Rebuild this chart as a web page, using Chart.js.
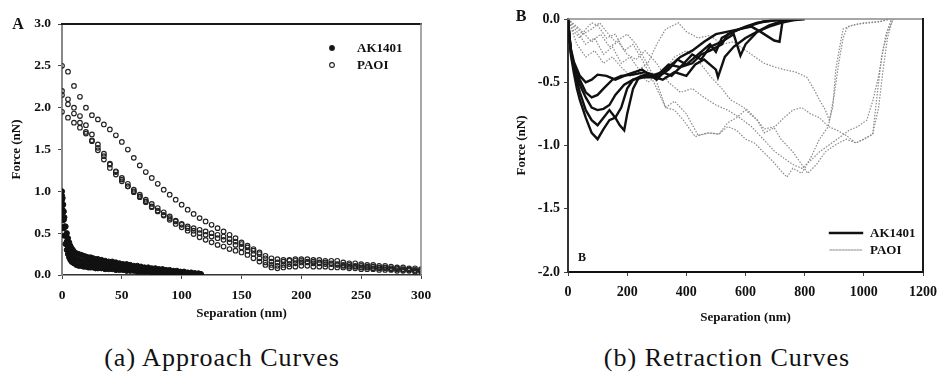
<!DOCTYPE html>
<html lang="en">
<head>
<meta charset="UTF-8">
<title>AFM Approach and Retraction Curves</title>
<script src="https://cdn.jsdelivr.net/npm/chart.js"></script>
<style>
    body {
        margin: 0;
        background: #fff;
        width: 945px;
        height: 383px;
        position: relative;
        overflow: hidden;
    }
    .panel { position: absolute; top: 0; }
    .caption {
        position: absolute;
        top: 343px;
        font-family: 'Liberation Serif', 'Times New Roman', serif;
        font-size: 26px;
        letter-spacing: 1px;
        line-height: 30px;
        color: #111;
        white-space: nowrap;
        transform: translateX(-50%);
    }
</style>
</head>
<body>

<canvas id="approachChart" class="panel" style="left:0" width="440" height="330"></canvas>
<canvas id="retractChart" class="panel" style="left:470px" width="475" height="330"></canvas>
<div class="caption" style="left:222px">(a) Approach Curves</div>
<div class="caption" style="left:727px">(b) Retraction Curves</div>

<script>
// ---- approach curves (panel A) ----
const approachTicksX = [0, 50, 100, 150, 200, 250, 300];
const approachTicksY = [0, 0.5, 1.0, 1.5, 2.0, 2.5, 3.0];

// AK1401 approach, separation in nm
const akSep = [0, 0.5, 1, 1.5, 2, 3, 4, 5, 6, 7, 8, 9, 10, 12, 14, 16, 18, 20, 22, 24, 26, 28, 30, 33, 36, 39, 42, 45, 48, 51, 54, 57, 60, 63, 66, 69, 72, 75, 78, 81, 84, 87, 90, 93, 96, 99, 102, 105, 108, 111, 114, 116];
const akApproach1 = [1.00, 0.92, 0.84, 0.76, 0.69, 0.58, 0.50, 0.44, 0.39, 0.35, 0.32, 0.30, 0.28, 0.26, 0.25, 0.24, 0.23, 0.22, 0.21, 0.21, 0.20, 0.19, 0.19, 0.18, 0.17, 0.16, 0.16, 0.15, 0.14, 0.13, 0.13, 0.12, 0.11, 0.11, 0.10, 0.09, 0.09, 0.08, 0.08, 0.07, 0.07, 0.06, 0.06, 0.05, 0.05, 0.04, 0.04, 0.03, 0.03, 0.02, 0.02, 0.01];
const akApproach2 = [0.95, 0.85, 0.75, 0.66, 0.58, 0.47, 0.40, 0.34, 0.30, 0.27, 0.24, 0.22, 0.21, 0.19, 0.18, 0.17, 0.16, 0.16, 0.15, 0.15, 0.14, 0.14, 0.13, 0.13, 0.12, 0.12, 0.11, 0.11, 0.10, 0.10, 0.09, 0.09, 0.08, 0.08, 0.07, 0.07, 0.06, 0.06, 0.05, 0.05, 0.05, 0.04, 0.04, 0.04, 0.03, 0.03, 0.03, 0.02, 0.02, 0.02, 0.01, 0.01];
const akApproach3 = [0.90, 0.78, 0.66, 0.56, 0.47, 0.37, 0.30, 0.25, 0.21, 0.18, 0.16, 0.15, 0.14, 0.12, 0.11, 0.11, 0.10, 0.10, 0.09, 0.09, 0.09, 0.08, 0.08, 0.08, 0.07, 0.07, 0.07, 0.06, 0.06, 0.06, 0.05, 0.05, 0.05, 0.04, 0.04, 0.04, 0.04, 0.03, 0.03, 0.03, 0.03, 0.02, 0.02, 0.02, 0.02, 0.02, 0.01, 0.01, 0.01, 0.01, 0.01, 0.00];

// PAOI approach, sampled every 5 nm from 0 to 300
const paoSep = [0, 5, 10, 15, 20, 25, 30, 35, 40, 45, 50, 55, 60, 65, 70, 75, 80, 85, 90, 95, 100, 105, 110, 115, 120, 125, 130, 135, 140, 145, 150, 155, 160, 165, 170, 175, 180, 185, 190, 195, 200, 205, 210, 215, 220, 225, 230, 235, 240, 245, 250, 255, 260, 265, 270, 275, 280, 285, 290, 295, 300];
const paoApproach1 = [2.50, 2.43, 2.26, 2.13, 2.00, 1.91, 1.86, 1.80, 1.74, 1.67, 1.59, 1.50, 1.40, 1.31, 1.23, 1.16, 1.09, 1.02, 0.96, 0.90, 0.84, 0.78, 0.73, 0.68, 0.64, 0.60, 0.56, 0.52, 0.48, 0.44, 0.39, 0.35, 0.31, 0.27, 0.23, 0.20, 0.19, 0.18, 0.18, 0.19, 0.19, 0.19, 0.18, 0.18, 0.17, 0.17, 0.17, 0.15, 0.14, 0.14, 0.13, 0.12, 0.12, 0.11, 0.11, 0.10, 0.09, 0.09, 0.08, 0.08, 0.07];
const paoApproach2 = [2.20, 2.10, 2.00, 1.90, 1.79, 1.68, 1.56, 1.45, 1.33, 1.24, 1.16, 1.09, 1.02, 0.96, 0.90, 0.85, 0.80, 0.75, 0.70, 0.65, 0.60, 0.56, 0.53, 0.50, 0.48, 0.46, 0.44, 0.42, 0.39, 0.36, 0.33, 0.29, 0.25, 0.20, 0.15, 0.12, 0.11, 0.12, 0.13, 0.14, 0.15, 0.15, 0.14, 0.14, 0.13, 0.13, 0.12, 0.11, 0.10, 0.10, 0.09, 0.09, 0.08, 0.08, 0.08, 0.07, 0.07, 0.06, 0.06, 0.05, 0.05];
const paoApproach3 = [2.15, 2.04, 1.93, 1.82, 1.71, 1.60, 1.49, 1.38, 1.28, 1.20, 1.12, 1.06, 1.00, 0.94, 0.88, 0.82, 0.77, 0.72, 0.68, 0.64, 0.61, 0.58, 0.56, 0.54, 0.52, 0.50, 0.48, 0.46, 0.43, 0.40, 0.37, 0.33, 0.29, 0.25, 0.20, 0.16, 0.15, 0.16, 0.17, 0.17, 0.17, 0.16, 0.16, 0.15, 0.15, 0.14, 0.13, 0.12, 0.12, 0.11, 0.11, 0.10, 0.10, 0.09, 0.09, 0.08, 0.08, 0.07, 0.07, 0.06, 0.06];
const paoApproach4 = [1.95, 1.88, 1.82, 1.76, 1.69, 1.61, 1.52, 1.42, 1.32, 1.23, 1.14, 1.06, 0.99, 0.93, 0.87, 0.81, 0.76, 0.71, 0.66, 0.61, 0.57, 0.53, 0.49, 0.45, 0.42, 0.39, 0.36, 0.34, 0.31, 0.29, 0.27, 0.24, 0.20, 0.16, 0.12, 0.09, 0.08, 0.09, 0.10, 0.10, 0.11, 0.11, 0.10, 0.10, 0.10, 0.09, 0.09, 0.09, 0.08, 0.08, 0.07, 0.07, 0.07, 0.06, 0.06, 0.06, 0.05, 0.05, 0.05, 0.04, 0.04];

// ---- retraction curves (panel B) ----
const retractTicksX = [0, 200, 400, 600, 800, 1000, 1200];
const retractTicksY = [-2.0, -1.5, -1.0, -0.5, 0.0];

const akRetSep1 = [0, 5, 10, 20, 30, 40, 60, 80, 100, 120, 140, 160, 180, 200, 220, 250, 280, 320, 350, 380, 420, 450, 480, 520, 540, 580, 620, 660, 700, 760, 800];
const akRetForce1 = [0, -0.16, -0.29, -0.43, -0.55, -0.64, -0.78, -0.90, -0.95, -0.87, -0.80, -0.78, -0.70, -0.55, -0.48, -0.45, -0.45, -0.42, -0.45, -0.38, -0.35, -0.28, -0.25, -0.20, -0.12, -0.08, -0.05, -0.02, -0.01, 0, 0];
const akRetSep2 = [0, 5, 10, 20, 40, 60, 80, 100, 120, 140, 160, 175, 190, 200, 220, 240, 260, 280, 320, 360, 400, 430, 460, 500, 507, 530, 560, 600, 640, 680, 720, 760, 800];
const akRetForce2 = [0, -0.15, -0.27, -0.40, -0.58, -0.72, -0.80, -0.84, -0.78, -0.72, -0.78, -0.84, -0.88, -0.75, -0.55, -0.46, -0.44, -0.45, -0.48, -0.42, -0.45, -0.36, -0.32, -0.40, -0.46, -0.30, -0.22, -0.15, -0.10, -0.06, -0.03, -0.01, 0];
const akRetSep3 = [0, 5, 10, 20, 40, 60, 80, 100, 120, 140, 160, 190, 220, 260, 300, 340, 370, 400, 440, 480, 500, 520, 560, 600, 640, 700, 780];
const akRetForce3 = [0, -0.15, -0.26, -0.38, -0.52, -0.62, -0.70, -0.72, -0.71, -0.68, -0.60, -0.52, -0.48, -0.46, -0.46, -0.40, -0.32, -0.36, -0.28, -0.20, -0.26, -0.15, -0.10, -0.06, -0.03, -0.01, 0];
const akRetSep4 = [0, 5, 10, 20, 40, 60, 80, 100, 120, 150, 180, 220, 260, 300, 340, 380, 420, 450, 480, 520, 560, 583, 600, 640, 680, 720, 780];
const akRetForce4 = [0, -0.14, -0.25, -0.36, -0.48, -0.58, -0.62, -0.60, -0.55, -0.48, -0.45, -0.44, -0.42, -0.45, -0.36, -0.38, -0.28, -0.32, -0.22, -0.18, -0.12, -0.29, -0.20, -0.10, -0.05, -0.02, 0];
const akRetSep5 = [0, 5, 10, 20, 40, 60, 80, 100, 130, 160, 200, 250, 300, 340, 380, 420, 460, 500, 540, 580, 620, 650, 697, 715, 725, 750, 790];
const akRetForce5 = [0, -0.14, -0.24, -0.34, -0.45, -0.50, -0.48, -0.44, -0.45, -0.48, -0.44, -0.40, -0.48, -0.38, -0.30, -0.25, -0.18, -0.12, -0.10, -0.08, -0.06, -0.10, -0.17, -0.18, -0.02, 0, 0];

const paoRetSep1 = [0, 20, 40, 60, 80, 100, 130, 160, 190, 220, 250, 280, 300, 330, 360, 400, 440, 480, 510, 540, 570, 600, 630, 660, 690, 720, 740, 760, 790, 820, 850, 880, 900, 915, 930, 945, 980, 1020, 1060, 1085];
const paoRetForce1 = [0, -0.10, -0.15, -0.08, -0.03, -0.05, -0.15, -0.12, -0.25, -0.20, -0.32, -0.45, -0.55, -0.70, -0.65, -0.75, -0.92, -0.90, -0.91, -0.85, -0.88, -0.95, -0.98, -1.05, -1.12, -1.20, -1.25, -1.18, -1.22, -1.10, -0.95, -0.85, -0.60, -0.35, -0.15, -0.06, -0.04, -0.03, -0.02, 0];
const paoRetSep2 = [0, 20, 50, 80, 107, 130, 160, 200, 230, 260, 300, 330, 360, 390, 430, 470, 510, 540, 570, 600, 640, 663, 697, 720, 760, 790, 810, 840, 870, 900, 940, 973, 1000, 1030, 1045, 1060, 1075, 1093];
const paoRetForce2 = [0, -0.05, -0.12, -0.08, -0.03, -0.10, -0.18, -0.12, -0.20, -0.32, -0.50, -0.70, -0.72, -0.80, -0.93, -0.90, -0.91, -0.82, -0.78, -0.72, -0.80, -0.90, -0.86, -0.95, -1.05, -1.15, -1.22, -1.15, -1.05, -1.00, -0.95, -0.98, -0.95, -0.91, -0.60, -0.30, -0.12, 0];
const paoRetSep3 = [0, 30, 60, 90, 120, 150, 180, 210, 240, 270, 300, 330, 373, 400, 440, 480, 520, 560, 583, 620, 663, 700, 730, 770, 807, 830, 850, 870, 883, 895, 905, 920, 930, 960, 1000, 1050, 1090];
const paoRetForce3 = [0, -0.10, -0.20, -0.15, -0.28, -0.22, -0.35, -0.30, -0.40, -0.35, -0.20, -0.08, -0.03, -0.10, -0.15, -0.13, -0.20, -0.18, -0.22, -0.28, -0.35, -0.38, -0.40, -0.42, -0.46, -0.55, -0.64, -0.72, -0.80, -0.70, -0.40, -0.20, -0.08, -0.05, -0.03, -0.02, 0];
const paoRetSep4 = [0, 30, 60, 90, 120, 150, 180, 210, 240, 270, 300, 330, 360, 400, 440, 480, 520, 550, 580, 607, 640, 663, 700, 730, 760, 790, 820, 850, 880, 910, 940, 973, 1000, 1030, 1050, 1065, 1080, 1097];
const paoRetForce4 = [0, -0.20, -0.30, -0.25, -0.35, -0.30, -0.38, -0.45, -0.42, -0.50, -0.45, -0.40, -0.30, -0.25, -0.33, -0.45, -0.55, -0.64, -0.68, -0.72, -0.80, -0.87, -0.85, -0.78, -0.72, -0.70, -0.75, -0.78, -0.85, -0.88, -0.92, -0.98, -0.95, -0.91, -0.70, -0.40, -0.15, 0];
const paoRetSep5 = [0, 40, 80, 110, 140, 170, 200, 230, 260, 300, 340, 380, 420, 460, 500, 540, 580, 620, 660, 700, 730, 760, 790, 820, 850, 880, 910, 950, 980, 1010, 1030, 1050, 1065, 1080, 1100];
const paoRetForce5 = [0, -0.08, -0.18, -0.12, -0.22, -0.18, -0.28, -0.32, -0.25, -0.35, -0.50, -0.58, -0.55, -0.62, -0.68, -0.72, -0.78, -0.85, -0.95, -1.05, -1.10, -1.15, -1.18, -1.12, -1.05, -1.00, -0.95, -0.88, -0.85, -0.80, -0.65, -0.45, -0.25, -0.10, 0];

const SERIF = "'Liberation Serif', 'Times New Roman', serif";
Chart.defaults.font.family = SERIF;
Chart.defaults.color = '#111';

function toPoints(xs, ys) {
    return xs.map((x, i) => ({ x: x, y: ys[i] }));
}

// frame edges, panel letters and hand-placed legend
const panelDecor = {
    id: 'panelDecor',
    afterDraw(chart, args, opts) {
        const { ctx, chartArea: a } = chart;
        ctx.save();
        ctx.lineCap = 'square';
        ctx.strokeStyle = opts.topColor;
        ctx.lineWidth = opts.topWidth;
        ctx.beginPath(); ctx.moveTo(a.left, a.top); ctx.lineTo(a.right, a.top); ctx.stroke();
        ctx.strokeStyle = opts.rightColor;
        ctx.lineWidth = opts.rightWidth;
        ctx.beginPath(); ctx.moveTo(a.right, a.top); ctx.lineTo(a.right, a.bottom); ctx.stroke();

        ctx.fillStyle = '#111';
        ctx.textAlign = 'center';
        ctx.textBaseline = 'middle';
        opts.letters.forEach(l => {
            ctx.font = 'bold ' + l.size + 'px ' + SERIF;
            ctx.fillText(l.text, l.x, l.y);
        });

        opts.legend.forEach(item => {
            if (item.kind === 'dot' || item.kind === 'ring') {
                ctx.beginPath();
                ctx.arc(item.x, item.y, 2.4, 0, Math.PI * 2);
                ctx.lineWidth = 1.1;
                ctx.strokeStyle = '#222';
                if (item.kind === 'dot') { ctx.fillStyle = '#111'; ctx.fill(); }
                ctx.stroke();
            } else {
                ctx.beginPath();
                ctx.setLineDash(item.kind === 'dash' ? [1.5, 1.5] : []);
                ctx.lineWidth = item.kind === 'dash' ? 1.2 : 2.4;
                ctx.strokeStyle = item.kind === 'dash' ? '#8a8a8a' : '#111';
                ctx.moveTo(item.x, item.y); ctx.lineTo(item.x + 32, item.y);
                ctx.stroke();
                ctx.setLineDash([]);
            }
            ctx.fillStyle = '#111';
            ctx.textAlign = 'left';
            ctx.font = 'bold 13px ' + SERIF;
            ctx.fillText(item.label, item.textX, item.y + 1);
        });
        ctx.restore();
    }
};

function axisTitle(text, padding) {
    return { display: true, text: text, color: '#111', font: { size: 13, weight: 'bold' }, padding: padding };
}

function tickFont(size) {
    return { size: size, weight: 'bold' };
}

// panel A
const akStyle = { backgroundColor: '#111', borderColor: '#111', pointRadius: 2.6, pointBorderWidth: 1, showLine: false };
const paoStyle = { backgroundColor: 'rgba(0,0,0,0)', borderColor: '#222', pointRadius: 2.3, pointBorderWidth: 1.15, showLine: false };

new Chart(document.getElementById('approachChart'), {
    type: 'scatter',
    data: {
        datasets: [
            Object.assign({ label: 'AK1401', data: toPoints(akSep, akApproach1) }, akStyle),
            Object.assign({ label: 'AK1401', data: toPoints(akSep, akApproach2) }, akStyle),
            Object.assign({ label: 'AK1401', data: toPoints(akSep, akApproach3) }, akStyle),
            Object.assign({ label: 'PAOI', data: toPoints(paoSep, paoApproach1) }, paoStyle),
            Object.assign({ label: 'PAOI', data: toPoints(paoSep, paoApproach2) }, paoStyle),
            Object.assign({ label: 'PAOI', data: toPoints(paoSep, paoApproach3) }, paoStyle),
            Object.assign({ label: 'PAOI', data: toPoints(paoSep, paoApproach4) }, paoStyle)
        ]
    },
    options: {
        responsive: false,
        animation: false,
        layout: { padding: { top: 24, right: 19, left: 0, bottom: 0 } },
        plugins: {
            legend: { display: false },
            tooltip: { enabled: false },
            panelDecor: {
                topColor: '#1a1a1a', topWidth: 2, rightColor: '#8a8a8a', rightWidth: 1.5,
                letters: [{ text: 'A', x: 18, y: 25, size: 16 }],
                legend: [
                    { kind: 'dot', x: 332, y: 48, textX: 357, label: 'AK1401' },
                    { kind: 'ring', x: 332, y: 65, textX: 357, label: 'PAOI' }
                ]
            }
        },
        scales: {
            x: {
                type: 'linear', min: 0, max: 300,
                afterBuildTicks: s => { s.ticks = approachTicksX.map(v => ({ value: v })); },
                afterFit: s => { s.height = 55; },
                ticks: { font: tickFont(13.5), color: '#111', padding: 8, callback: v => String(v) },
                grid: { drawOnChartArea: false, tickLength: 4, color: '#444' },
                border: { color: '#333', width: 1.5 },
                title: axisTitle('Separation (nm)', { top: 0, bottom: 9 })
            },
            y: {
                min: 0, max: 3,
                afterBuildTicks: s => { s.ticks = approachTicksY.map(v => ({ value: v })); },
                afterFit: s => { s.width = 62; },
                ticks: { font: tickFont(13.5), color: '#111', padding: 7, callback: v => v.toFixed(1) },
                grid: { drawOnChartArea: false, tickLength: 4, color: '#444' },
                border: { color: '#888', width: 2 },
                title: axisTitle('Force (nN)', { top: 9, bottom: 0 })
            }
        }
    },
    plugins: [panelDecor]
});

// panel B
const akLine = { borderColor: '#111', borderWidth: 2.4, pointRadius: 0, showLine: true, tension: 0 };
const paoLine = { borderColor: '#8a8a8a', borderWidth: 1.2, borderDash: [1.5, 1.5], pointRadius: 0, showLine: true, tension: 0 };

new Chart(document.getElementById('retractChart'), {
    type: 'scatter',
    data: {
        datasets: [
            Object.assign({ label: 'AK1401', data: toPoints(akRetSep1, akRetForce1) }, akLine),
            Object.assign({ label: 'AK1401', data: toPoints(akRetSep2, akRetForce2) }, akLine),
            Object.assign({ label: 'AK1401', data: toPoints(akRetSep3, akRetForce3) }, akLine),
            Object.assign({ label: 'AK1401', data: toPoints(akRetSep4, akRetForce4) }, akLine),
            Object.assign({ label: 'AK1401', data: toPoints(akRetSep5, akRetForce5) }, akLine),
            Object.assign({ label: 'PAOI', data: toPoints(paoRetSep1, paoRetForce1) }, paoLine),
            Object.assign({ label: 'PAOI', data: toPoints(paoRetSep2, paoRetForce2) }, paoLine),
            Object.assign({ label: 'PAOI', data: toPoints(paoRetSep3, paoRetForce3) }, paoLine),
            Object.assign({ label: 'PAOI', data: toPoints(paoRetSep4, paoRetForce4) }, paoLine),
            Object.assign({ label: 'PAOI', data: toPoints(paoRetSep5, paoRetForce5) }, paoLine)
        ]
    },
    options: {
        responsive: false,
        animation: false,
        layout: { padding: { top: 19, right: 16, left: 0, bottom: 0 } },
        plugins: {
            legend: { display: false },
            tooltip: { enabled: false },
            panelDecor: {
                topColor: '#8a8a8a', topWidth: 1.5, rightColor: '#1a1a1a', rightWidth: 2,
                letters: [
                    { text: 'B', x: 51, y: 17, size: 16 },
                    { text: 'B', x: 112, y: 258, size: 12 }
                ],
                legend: [
                    { kind: 'solid', x: 360, y: 233, textX: 400, label: 'AK1401' },
                    { kind: 'dash', x: 360, y: 250, textX: 400, label: 'PAOI' }
                ]
            }
        },
        scales: {
            x: {
                type: 'linear', min: 0, max: 1200,
                afterBuildTicks: s => { s.ticks = retractTicksX.map(v => ({ value: v })); },
                afterFit: s => { s.height = 58; },
                ticks: { font: tickFont(14), color: '#111', padding: 8, callback: v => String(v) },
                grid: { drawOnChartArea: false, tickLength: 4, color: '#444' },
                border: { color: '#111', width: 2 },
                title: axisTitle('Separation (nm)', { top: 0, bottom: 5 })
            },
            y: {
                min: -2, max: 0,
                afterBuildTicks: s => { s.ticks = retractTicksY.map(v => ({ value: v })); },
                afterFit: s => { s.width = 98; },
                ticks: { font: tickFont(14), color: '#111', padding: 4, callback: v => v.toFixed(1) },
                grid: { drawOnChartArea: false, tickLength: 4, color: '#444' },
                border: { color: '#333', width: 2 },
                title: axisTitle('Force (nN)', { top: 44, bottom: 0 })
            }
        }
    },
    plugins: [panelDecor]
});
</script>
</body>
</html>
